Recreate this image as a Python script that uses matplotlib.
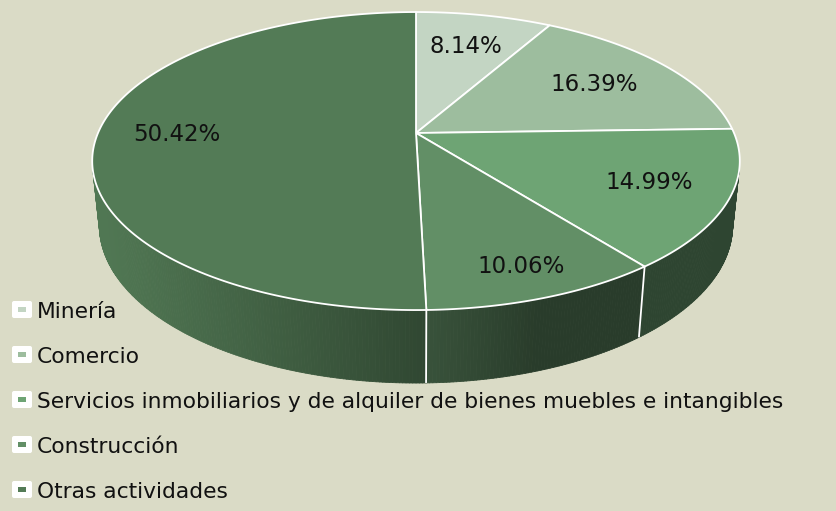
import numpy as np
import matplotlib
matplotlib.use('Agg')
import matplotlib.pyplot as plt
from matplotlib.patches import Polygon, FancyBboxPatch, Rectangle
from matplotlib.collections import PolyCollection
from matplotlib.colors import to_rgb

# ============= Data
categories = ['Minería', 'Comercio',
              'Servicios inmobiliarios y de alquiler de bienes muebles e intangibles',
              'Construcción', 'Otras actividades']
shares = [8.14, 16.39, 14.99, 10.06, 50.42]
sliceColors = ['#c3d5c3', '#9dbd9e', '#6ea474', '#628f66', '#537b56']

# ============= Look
bgColor = '#dadbc6'
fontName = 'DejaVu Sans'
labelSize = 16.5
legendSize = 15.7
labelRadius = [0.70, 0.70, 0.76, 0.84, 0.75]  # where each % label sits, in pie radii

# ============= 3D pie geometry (pixels, y down)
cx, cy, R = 416, 133, 318
sinPhi = 0.452
cosPhi = np.sqrt(1 - sinPhi ** 2)
D = 4.74          # camera distance (pie radii)
depth = 0.228     # pie thickness (pie radii)


def proj(t, r=1.0, w=0.0):
    # t in degrees, clockwise from 12 o'clock
    u = r * np.sin(np.radians(t))
    v = r * np.cos(np.radians(t))
    den = 1 + (v * cosPhi - w * sinPhi) / D
    sx = u / den
    sy = (v * sinPhi + w * cosPhi) / den
    return cx + R * sx, cy - R * sy


def shade(t):
    n = np.array([np.sin(np.radians(t)), np.cos(np.radians(t))])
    light = np.array([-0.95, -0.31])
    return 0.42 + 0.55 * max(0.0, float(n @ light))


fig = plt.figure(figsize=(8.37, 5.11), dpi=100)
fig.patch.set_facecolor(bgColor)
ax = fig.add_axes([0, 0, 1, 1])
ax.set_xlim(0, 837)
ax.set_ylim(511, 0)
ax.axis('off')

bounds = np.concatenate([[0], np.cumsum(shares)]) / np.sum(shares) * 360
visLimit = -1 / (D * cosPhi)

# side of the pie
quads, quadColors = [], []
for i in range(len(shares)):
    ts = np.linspace(bounds[i], bounds[i + 1], max(3, int((bounds[i + 1] - bounds[i]) * 2)))
    base = np.array(to_rgb(sliceColors[i]))
    for t0, t1 in zip(ts[:-1], ts[1:]):
        tm = (t0 + t1) / 2
        if np.cos(np.radians(tm)) >= visLimit:
            continue
        quads.append([proj(t0), proj(t1), proj(t1, w=-depth), proj(t0, w=-depth)])
        quadColors.append(np.clip(base * shade(tm), 0, 1))
ax.add_collection(PolyCollection(quads, facecolors=quadColors, edgecolors=quadColors,
                                 linewidths=0.6, antialiased=True))

# white seams on the side
for b in bounds[:-1]:
    if np.cos(np.radians(b)) < visLimit:
        x0, y0 = proj(b)
        x1, y1 = proj(b, w=-depth)
        ax.plot([x0, x1], [y0, y1], color='white', lw=1.3, solid_capstyle='butt')

# top face
for i in range(len(shares)):
    ts = np.linspace(bounds[i], bounds[i + 1], 200)
    pts = [proj(0, r=0)] + [proj(t) for t in ts]
    ax.add_patch(Polygon(pts, closed=True, facecolor=sliceColors[i], edgecolor='white',
                         lw=1.3, joinstyle='round'))

# percentage labels
for i, s in enumerate(shares):
    tm = (bounds[i] + bounds[i + 1]) / 2
    x, y = proj(tm, r=labelRadius[i])
    ax.text(x, y, f'{s:.2f}%', ha='center', va='center', fontsize=labelSize,
            family=fontName, color='#111111')

# legend
for i, name in enumerate(categories):
    yb = 318 + 45 * i
    ax.add_patch(FancyBboxPatch((12, yb - 17), 20, 17, boxstyle='round,pad=0,rounding_size=2',
                                facecolor='white', edgecolor='none'))
    ax.add_patch(Rectangle((18, yb - 11), 8.5, 5.5, facecolor=sliceColors[i], edgecolor='none'))
    ax.text(37, yb, name, ha='left', va='baseline', fontsize=legendSize,
            family=fontName, color='#111111')

fig.savefig('out.png', dpi=100, facecolor=bgColor)
